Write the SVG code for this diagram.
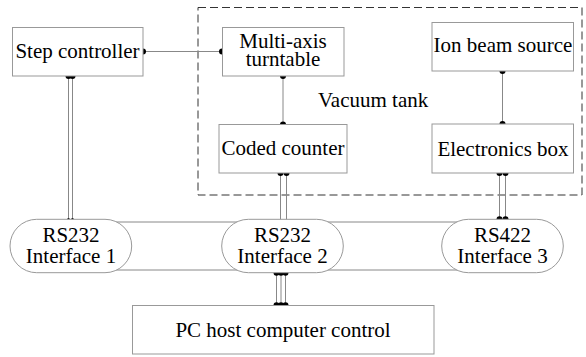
<svg xmlns="http://www.w3.org/2000/svg" width="586" height="357" viewBox="0 0 586 357" font-family="Times New Roman, Liberation Serif, DejaVu Serif, serif" font-size="21">
<style>
.box{fill:#fff;stroke:#999;stroke-width:1}
.ln{stroke:#888;stroke-width:1;fill:none}
.dot{fill:#000}
</style>
<rect width="586" height="357" fill="#fff"/>
<g id="vacuum-tank">
<rect x="198" y="7.5" width="384" height="187.5" fill="none" stroke="#333" stroke-width="1" stroke-dasharray="8,4"/>
<text x="318" y="107">Vacuum tank</text>
</g>
<g id="connectors">
<line class="ln" x1="143" y1="51.5" x2="222" y2="51.5"/>
<circle class="dot" cx="143" cy="51.5" r="3"/>
<circle class="dot" cx="222" cy="51.5" r="3"/>
<line class="ln" x1="283" y1="76" x2="283" y2="124.5"/>
<circle class="dot" cx="283" cy="76" r="3"/>
<circle class="dot" cx="283" cy="124.5" r="3"/>
<line class="ln" x1="502.5" y1="71" x2="502.5" y2="124"/>
<circle class="dot" cx="502.5" cy="71" r="3"/>
<circle class="dot" cx="502.5" cy="124" r="3"/>
<line class="ln" x1="68.5" y1="76" x2="68.5" y2="219"/>
<line class="ln" x1="72.5" y1="76" x2="72.5" y2="219"/>
<circle class="dot" cx="68.5" cy="76" r="3"/>
<circle class="dot" cx="72.5" cy="76" r="3"/>
<circle class="dot" cx="68.5" cy="219.5" r="1.5"/>
<circle class="dot" cx="72.5" cy="219.5" r="1.5"/>
<line class="ln" x1="280.5" y1="173" x2="280.5" y2="222"/>
<line class="ln" x1="286.5" y1="173" x2="286.5" y2="222"/>
<circle class="dot" cx="280.5" cy="173" r="3"/>
<circle class="dot" cx="286.5" cy="173" r="3"/>
<line class="ln" x1="499.5" y1="173" x2="499.5" y2="219"/>
<line class="ln" x1="505.5" y1="173" x2="505.5" y2="219"/>
<circle class="dot" cx="499.5" cy="173" r="3"/>
<circle class="dot" cx="505.5" cy="173" r="3"/>
<circle class="dot" cx="499.5" cy="219.3" r="3"/>
<circle class="dot" cx="505.5" cy="219.3" r="3"/>
<line class="ln" x1="276.5" y1="272" x2="276.5" y2="305"/>
<line class="ln" x1="281" y1="272" x2="281" y2="305"/>
<line class="ln" x1="285.5" y1="272" x2="285.5" y2="305"/>
<circle class="dot" cx="276.5" cy="272.7" r="3"/>
<circle class="dot" cx="281" cy="272.7" r="3"/>
<circle class="dot" cx="285.5" cy="272.7" r="3"/>
<circle class="dot" cx="276.5" cy="305.3" r="3"/>
<circle class="dot" cx="281" cy="305.3" r="3"/>
<circle class="dot" cx="285.5" cy="305.3" r="3"/>
<line class="ln" x1="90" y1="222" x2="520" y2="222"/>
<line class="ln" x1="90" y1="270" x2="520" y2="270"/>
</g>
<g text-anchor="middle">
<g id="step-controller">
<rect class="box" x="12.5" y="27.5" width="130.5" height="48.5"/>
<text x="77.5" y="58">Step controller</text>
</g>
<g id="multi-axis-turntable">
<rect class="box" x="222.5" y="27.5" width="121.5" height="48.5"/>
<text x="283" y="47.5">Multi-axis</text>
<text x="283" y="65.5">turntable</text>
</g>
<g id="ion-beam-source">
<rect class="box" x="432" y="22.5" width="141.5" height="48.5"/>
<text x="503" y="52">Ion beam source</text>
</g>
<g id="coded-counter">
<rect class="box" x="219" y="124.5" width="128" height="48.5"/>
<text x="283" y="155">Coded counter</text>
</g>
<g id="electronics-box">
<rect class="box" x="432" y="124" width="141.5" height="49"/>
<text x="503" y="156">Electronics box</text>
</g>
<g id="interface-1">
<rect class="box" x="10" y="219.3" width="121.7" height="53.4" rx="26.7"/>
<text x="71" y="242">RS232</text>
<text x="71" y="262.5">Interface 1</text>
</g>
<g id="interface-2">
<rect class="box" x="221.7" y="219.3" width="121.6" height="53.4" rx="26.7"/>
<text x="282.5" y="242">RS232</text>
<text x="282.5" y="262.5">Interface 2</text>
</g>
<g id="interface-3">
<rect class="box" x="441.7" y="219.3" width="121.6" height="53.4" rx="26.7"/>
<text x="502.5" y="242">RS422</text>
<text x="502.5" y="262.5">Interface 3</text>
</g>
<g id="pc-host">
<rect class="box" x="132.5" y="305.5" width="301.5" height="48.5"/>
<text x="283" y="337">PC host computer control</text>
</g>
</g>
</svg>
